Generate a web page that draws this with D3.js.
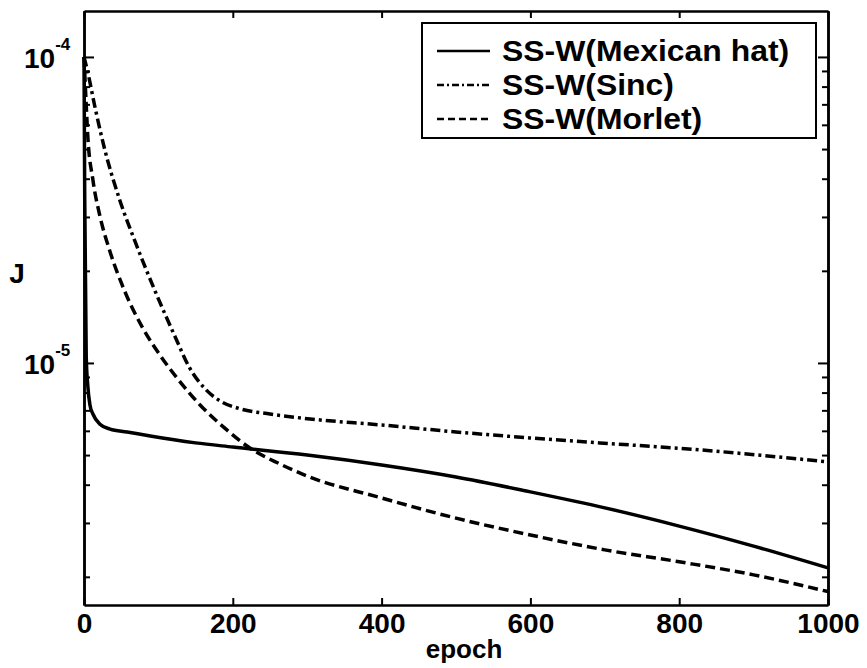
<!DOCTYPE html>
<html>
<head>
<meta charset="utf-8">
<script src="https://cdn.jsdelivr.net/npm/d3@7"></script>
<style>
  body { margin: 0; background: #fff; }
  text { font-family: "Liberation Sans", Arial, sans-serif; font-weight: bold; fill: #000; }
</style>
</head>
<body>
<div id="chart-area"></div>
<script>
// Training cost J vs epoch, log y axis

var epochs_mex = [0, 1, 3, 5, 8, 12, 21, 35, 58, 89, 150, 200, 300, 400, 500, 600, 700, 800, 900, 1000];
var J_mex = [1.0e-4, 3.41e-5, 1.047e-5, 8.48e-6, 7.29e-6, 6.81e-6, 6.32e-6, 6.08e-6, 5.95e-6, 5.77e-6,
             5.48e-6, 5.31e-6, 5.0e-6, 4.64e-6, 4.24e-6, 3.79e-6, 3.36e-6, 2.93e-6, 2.52e-6, 2.14e-6];

var epochs_sinc = [0, 5, 15, 28, 48, 69, 95, 122, 142, 163, 183, 210, 250, 304, 400, 500, 599, 693, 827, 1000];
var J_sinc = [1.0e-4, 8.93e-5, 6.81e-5, 4.97e-5, 3.41e-5, 2.48e-5, 1.73e-5, 1.225e-5, 9.63e-6, 8.22e-6,
              7.51e-6, 7.08e-6, 6.81e-6, 6.56e-6, 6.27e-6, 5.95e-6, 5.69e-6, 5.48e-6, 5.20e-6, 4.75e-6];

var epochs_mor = [0, 3, 5, 12, 21, 35, 55, 79, 102, 125, 156, 192, 223, 263, 300, 400, 500, 600, 700, 800, 900, 1000];
var J_mor = [1.0e-4, 6.97e-5, 5.56e-5, 3.96e-5, 3.05e-5, 2.31e-5, 1.71e-5, 1.30e-5, 1.062e-5, 8.93e-6,
             7.29e-6, 6.04e-6, 5.27e-6, 4.68e-6, 4.27e-6, 3.62e-6, 3.11e-6, 2.74e-6, 2.45e-6, 2.24e-6, 2.03e-6, 1.79e-6];

var seriesNames = ["SS-W(Mexican hat)", "SS-W(Sinc)", "SS-W(Morlet)"];
var seriesDash = ["none", "10,4,3,4", "10,5"];

var xTicks = [0, 200, 400, 600, 800, 1000];
var yMajor = [1e-4, 1e-5];
var yMinor = [2e-6, 3e-6, 4e-6, 5e-6, 6e-6, 7e-6, 8e-6, 9e-6,
              2e-5, 3e-5, 4e-5, 5e-5, 6e-5, 7e-5, 8e-5, 9e-5];
var yExp = ["-4", "-5"];

var margin = {top: 11, right: 39, bottom: 63, left: 84};
var width = 867 - margin.left - margin.right,
    height = 668 - margin.top - margin.bottom;

var svg = d3.select("#chart-area").append("svg")
    .attr("width", width + margin.left + margin.right)
    .attr("height", height + margin.top + margin.bottom)
    .append("g")
    .attr("transform", "translate(" + margin.left + "," + margin.top + ")");

var x = d3.scaleLinear().domain([0, 1000]).range([0, width]);
var y = d3.scaleLog().domain([1.618e-6, 1.413e-4]).range([height, 0]);

// curves
var series = [
    d3.zip(epochs_mex, J_mex),
    d3.zip(epochs_sinc, J_sinc),
    d3.zip(epochs_mor, J_mor)
];

var line = d3.line()
    .x(function (d) { return x(d[0]); })
    .y(function (d) { return y(d[1]); })
    .curve(d3.curveMonotoneX);

svg.selectAll(".curve")
    .data(series)
    .enter().append("path")
    .attr("class", "curve")
    .attr("d", line)
    .attr("fill", "none")
    .attr("stroke", "#000")
    .attr("stroke-width", 3.5)
    .attr("stroke-dasharray", function (d, i) { return seriesDash[i]; });

// axes, ticks pointing inward
function styleAxis(g) {
    g.select(".domain").attr("stroke-width", 2.5);
    g.selectAll(".tick line").attr("stroke-width", 2);
}

svg.append("g")
    .attr("transform", "translate(0," + height + ")")
    .call(d3.axisBottom(x).tickValues(xTicks).tickSizeInner(-7).tickSizeOuter(0).tickPadding(8).tickFormat(d3.format("d")))
    .call(styleAxis)
    .selectAll("text")
    .style("font-size", "28px")
    .style("font-family", "Liberation Sans, Arial, sans-serif")
    .style("font-weight", "bold");

svg.append("g")
    .call(d3.axisTop(x).tickValues(xTicks).tickSizeInner(-7).tickSizeOuter(0).tickFormat(""))
    .call(styleAxis);

svg.append("g")
    .call(d3.axisLeft(y).tickValues(yMajor).tickSizeInner(-10).tickSizeOuter(0).tickFormat(""))
    .call(styleAxis);
svg.append("g")
    .call(d3.axisLeft(y).tickValues(yMinor).tickSizeInner(-6).tickSizeOuter(0).tickFormat(""))
    .call(styleAxis);

svg.append("g")
    .attr("transform", "translate(" + width + ",0)")
    .call(d3.axisRight(y).tickValues(yMajor).tickSizeInner(-10).tickSizeOuter(0).tickFormat(""))
    .call(styleAxis);
svg.append("g")
    .attr("transform", "translate(" + width + ",0)")
    .call(d3.axisRight(y).tickValues(yMinor).tickSizeInner(-6).tickSizeOuter(0).tickFormat(""))
    .call(styleAxis);

// y tick labels 10^n
var ylab = svg.selectAll(".ylab")
    .data(yMajor)
    .enter().append("text")
    .attr("class", "ylab")
    .attr("x", -60)
    .attr("y", function (d) { return y(d) + 11; })
    .style("font-size", "28px");
ylab.append("tspan").text("10");
ylab.append("tspan")
    .attr("dy", -18)
    .style("font-size", "17px")
    .text(function (d, i) { return yExp[i]; });

// axis titles
svg.append("text")
    .attr("x", 380)
    .attr("y", 647)
    .attr("text-anchor", "middle")
    .style("font-size", "26px")
    .text("epoch");

svg.append("text")
    .attr("x", -67)
    .attr("y", 272)
    .attr("text-anchor", "middle")
    .style("font-size", "28px")
    .text("J");

// legend
var legend = svg.append("g")
    .attr("transform", "translate(" + (422 - margin.left) + "," + (23 - margin.top) + ")");

legend.append("rect")
    .attr("width", 394)
    .attr("height", 115)
    .attr("fill", "#fff")
    .attr("stroke", "#000")
    .attr("stroke-width", 2);

var rows = legend.selectAll(".row")
    .data(seriesNames)
    .enter().append("g")
    .attr("class", "row")
    .attr("transform", function (d, i) { return "translate(0," + (28 + i * 34) + ")"; });

rows.append("line")
    .attr("x1", 15)
    .attr("x2", 68)
    .attr("stroke", "#000")
    .attr("stroke-width", 2.5)
    .attr("stroke-dasharray", function (d, i) { return seriesDash[i] === "none" ? null : (i === 1 ? "7,3,2,3" : "7,4"); });

rows.append("text")
    .attr("x", 80)
    .attr("y", 10)
    .style("font-size", "29px")
    .text(function (d) { return d; })
    .each(function () {
        // the original glyphs run wider than Liberation Sans
        var w = this.getComputedTextLength();
        d3.select(this).attr("textLength", w * 1.1).attr("lengthAdjust", "spacingAndGlyphs");
    });
</script>
</body>
</html>
